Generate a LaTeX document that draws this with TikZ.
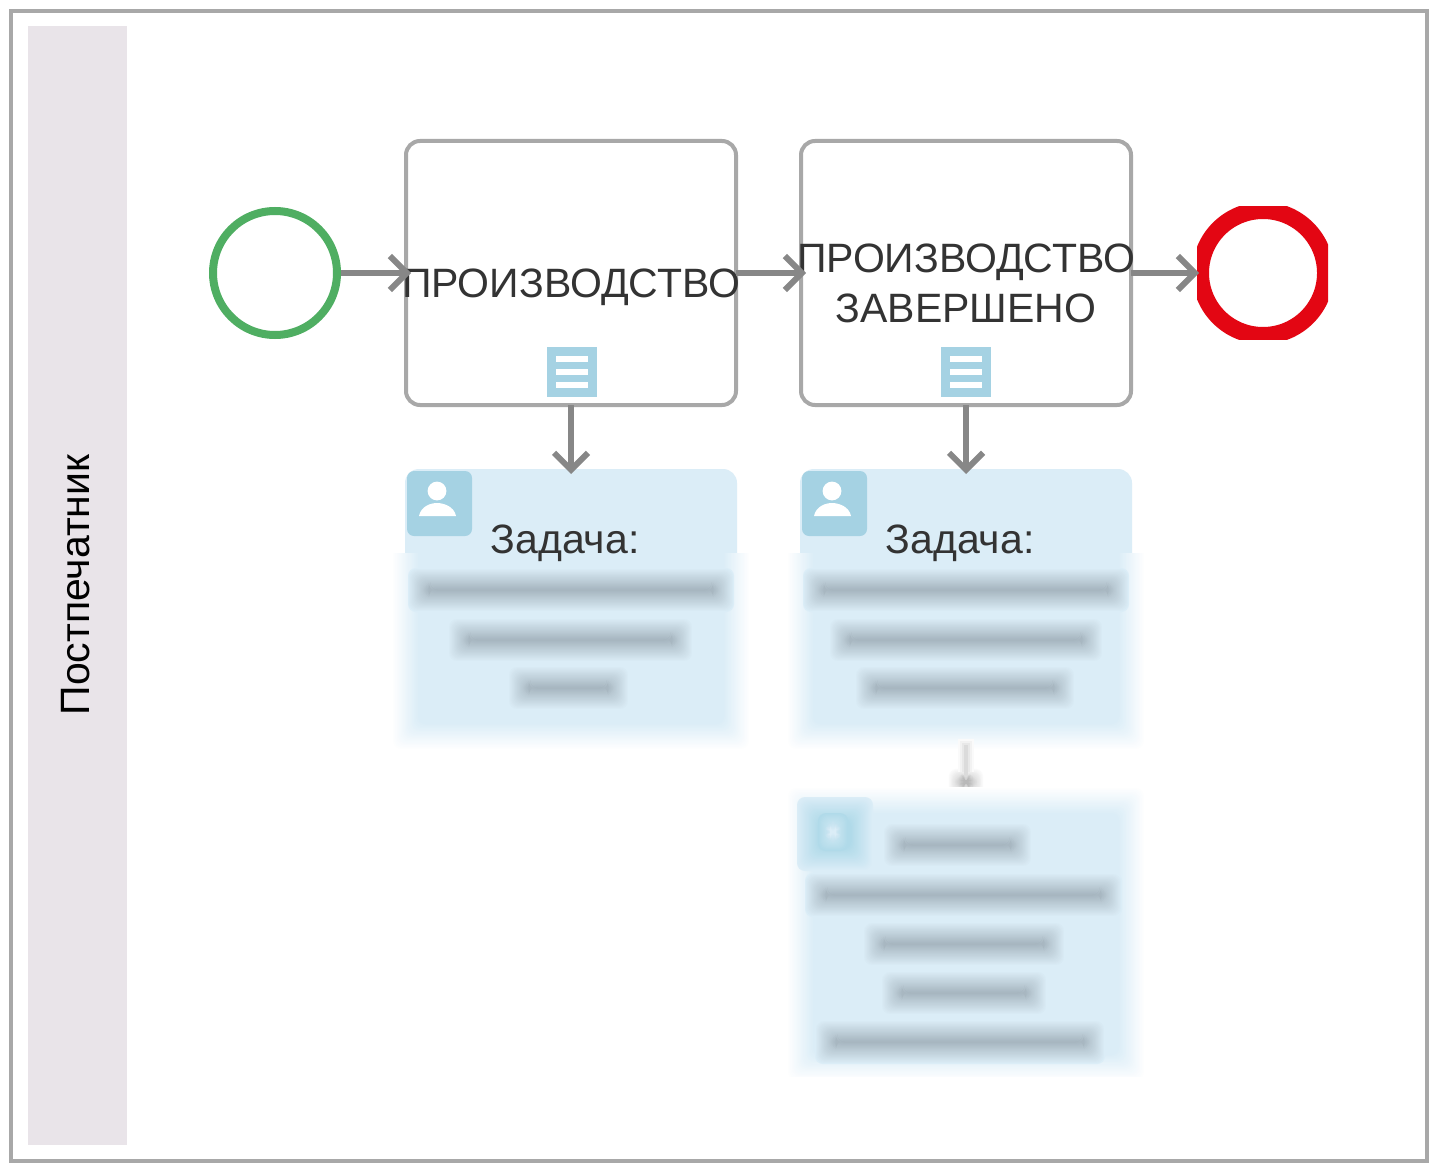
\documentclass[tikz,border=0pt]{standalone}
\usepackage{fontspec}
\setmainfont{Liberation Sans}
\usetikzlibrary{arrows.meta}

\definecolor{framegray}{HTML}{A8A8A8}
\definecolor{lanefill}{HTML}{E9E4E9}
\definecolor{flowgray}{HTML}{878787}
\definecolor{startgreen}{HTML}{4FAE62}
\definecolor{endred}{HTML}{E30613}
\definecolor{iconblue}{HTML}{A5D2E3}
\definecolor{cardblue}{HTML}{DBEDF7}
\definecolor{textgray}{HTML}{333333}
\definecolor{smudgegray}{HTML}{A5B4BE}
\definecolor{smudgeicon}{HTML}{B0DAE9}
\definecolor{smudgetip}{HTML}{B9B9B9}

% #1,#2,#3,#4 box, #5 inner colour, #6 outer colour, #7 spread
\newcommand{\softfill}[7]{
\foreach \k [evaluate=\k as \pct using int(\k*5),
             evaluate=\k as \d using #7*(1-\k/10)] in {0,1,...,20}
  \fill[#5!\pct!#6,rounded corners=4pt] ({#1-\d},{#2-\d}) rectangle ({#3+\d},{#4+\d});
}
\newcommand{\personicon}[2]{
\fill[iconblue,rounded corners=3.5pt] (#1,#2) rectangle ++(65,65);
\fill[white] (#1+30,#2+20) circle (4.7pt);
\fill[white] (#1+12,#2+45) .. controls (#1+14,#2+35) and (#1+24,#2+32) .. (#1+30,#2+32)
  .. controls (#1+36,#2+32) and (#1+47,#2+35) .. (#1+49,#2+45) -- cycle;
}
\newcommand{\listicon}[2]{
\fill[iconblue] (#1-25,#2) rectangle ++(50,50);
\fill[white] (#1-16,#2+9) rectangle ++(32,6);
\fill[white] (#1-16,#2+22) rectangle ++(32,6);
\fill[white] (#1-16,#2+35) rectangle ++(32,6);
}

\tikzset{
  tasktext/.style={font=\fontsize{20.5}{25}\selectfont,text=textgray,align=center,inner sep=0pt},
  taskbox/.style={draw=framegray,line width=2pt,fill=white,rounded corners=7pt,outer sep=0pt,
    minimum width=165pt,minimum height=132pt},
  cardbox/.style={outer sep=0pt,inner sep=0pt,minimum width=166pt,minimum height=134pt},
  flow/.style={draw=flowgray,line width=3pt,shorten >=-2.5pt,
    -{Straight Barb[length=8.5pt,width=17pt]}},
}

\begin{document}
\begin{tikzpicture}[x=0.5pt,y=-0.5pt]
\useasboundingbox (0,0) rectangle (1433,1166);
\fill[white] (0,0) rectangle (1433,1166);
\draw[framegray,line width=2pt] (11,11) rectangle (1427,1161);

\node[fill=lanefill,outer sep=0pt,minimum width=49.5pt,minimum height=559.5pt] (lane) at (77.5,585.5) {};
\node[rotate=90,font=\fontsize{20.5}{25}\selectfont,inner sep=0pt] (lanetitle) at (76,585) {Постпечатник};

% events
\node[circle,draw=startgreen,line width=4pt,outer sep=2pt,minimum size=62pt] (start) at (275,273) {};
\begin{scope}
\clip (1197,207) rectangle (1328,339);
\node[circle,draw=endred,line width=8.5pt,outer sep=0pt,minimum size=62.5pt] (finish) at (1263,273) {};
\end{scope}

% tasks
\node[taskbox] (task1) at (571,273) {};
\node[taskbox] (task2) at (966,273) {};
\node[tasktext] (task1text) at (571,287) {ПРОИЗВОДСТВО};
\node[tasktext] (task2text) at (966,283) {ПРОИЗВОДСТВО\\ЗАВЕРШЕНО};
\listicon{571.5}{347}
\listicon{966}{347}

% cards, the lower part is smudged
\node[cardbox] (card1) at (571,603) {};
\node[cardbox] (card2) at (966,603) {};
\node[cardbox] (card3) at (966,934) {};
\fill[cardblue,rounded corners=7pt] (405,469) rectangle (737,570);
\fill[cardblue,rounded corners=7pt] (800,469) rectangle (1132,570);
\begin{scope}
\clip (380,553) rectangle (1160,770);
\softfill{405}{469}{737}{737}{cardblue}{white}{13}
\softfill{800}{469}{1132}{737}{cardblue}{white}{13}
\end{scope}
\softfill{956}{776}{976}{788}{smudgetip}{white}{8}
\begin{scope}
\clip (780,780) rectangle (1160,1076);
\softfill{800}{800}{1132}{1068}{cardblue}{white}{13}
\end{scope}
\personicon{407}{471}
\personicon{802}{471}
\node[tasktext] (card1text) at (565,543) {Задача:};
\node[tasktext] (card2text) at (960,543) {Задача:};

% smudged lines
\softfill{419}{579}{723}{601}{smudgegray}{cardblue}{11}
\softfill{459}{629}{682}{651}{smudgegray}{cardblue}{11}
\softfill{519}{677}{618}{699}{smudgegray}{cardblue}{11}
\softfill{814}{579}{1118}{601}{smudgegray}{cardblue}{11}
\softfill{840}{629}{1092}{651}{smudgegray}{cardblue}{11}
\softfill{866}{677}{1064}{699}{smudgegray}{cardblue}{11}
\softfill{808}{808}{862}{860}{smudgeicon}{cardblue}{11}
\softfill{827}{822}{839}{842}{cardblue}{smudgeicon}{9}
\softfill{894}{834}{1021}{856}{smudgegray}{cardblue}{11}
\softfill{816}{884}{1111}{906}{smudgegray}{cardblue}{11}
\softfill{874}{933}{1054}{955}{smudgegray}{cardblue}{11}
\softfill{892}{982}{1036}{1004}{smudgegray}{cardblue}{11}
\softfill{826}{1031}{1094}{1053}{smudgegray}{cardblue}{11}

% flows
\draw[flow] (start) -- (task1);
\draw[flow] (task1) -- (task2);
\draw[flow,shorten >=0.75pt] (task2) -- (finish);
\draw[flow] (task1) -- (card1);
\draw[flow] (task2) -- (card2);
\draw[line width=8pt,black!2,shorten <=1pt,shorten >=14pt] (card2) -- (card3);
\draw[line width=6pt,black!5,shorten <=2pt,shorten >=14pt] (card2) -- (card3);
\draw[line width=4pt,black!9,shorten <=3pt,shorten >=14pt] (card2) -- (card3);
\draw[line width=2pt,black!14,shorten <=4pt,shorten >=12pt] (card2) -- (card3);
\end{tikzpicture}
\end{document}
